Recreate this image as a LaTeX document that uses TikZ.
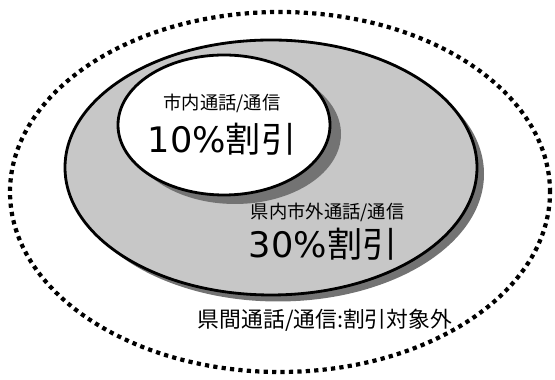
\documentclass[tikz,border=0pt]{standalone}
\usepackage{fontspec}
\setmainfont{Noto Sans CJK JP}
\newfontfamily\digitfont{DejaVu Sans}
\begin{document}
\begin{tikzpicture}[x=0.025cm, y=0.025cm,
  ring/.style={draw=black, line width=2pt},
  shade/.style={fill=black!55},
  smalltxt/.style={font=\fontsize{13}{15}\selectfont},
  bigtxt/.style={font=\fontsize{25}{30}\selectfont}]
\useasboundingbox (0,0) rectangle (555,380);

% outer area: calls between prefectures
\draw[line width=3pt, dash pattern=on 3pt off 3pt] (280,188) ellipse [x radius=270, y radius=180];

% middle area: inside prefecture, other city
\fill[shade] (278,206) ellipse [x radius=206, y radius=127.5];
\draw[ring, fill=black!22] (271,212.5) ellipse [x radius=206, y radius=127.5];

% inner area: same city
\fill[shade] (235,246) ellipse [x radius=106, y radius=70];
\draw[ring, fill=white] (224,255) ellipse [x radius=106, y radius=70];

% labels
\node[smalltxt] (cityname) at (222,277) {市内通話/通信};
\node[bigtxt] (cityrate) at (222,241) {{\digitfont 10\%}割引};
\node[smalltxt, anchor=west] (prefname) at (246,168) {県内市外通話/通信};
\node[bigtxt, anchor=west] (prefrate) at (244,136) {{\digitfont 30\%}割引};
\node[font=\fontsize{15.5}{18}\selectfont] (outname) at (325,60) {県間通話/通信:割引対象外};
\end{tikzpicture}
\end{document}
